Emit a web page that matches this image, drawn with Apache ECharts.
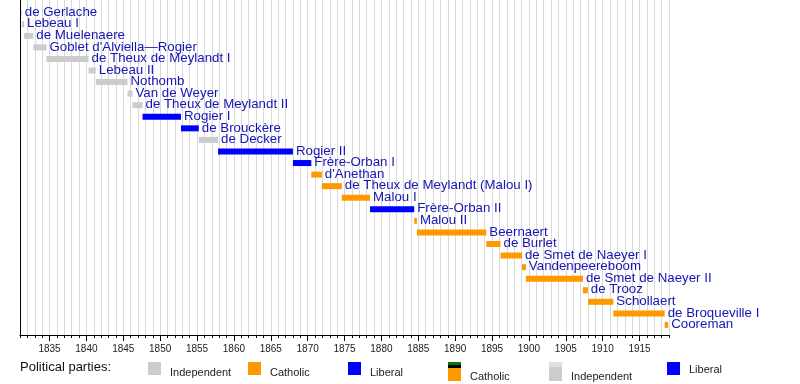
<!DOCTYPE html>
<html><head><meta charset="utf-8">
<script src="https://cdn.jsdelivr.net/npm/echarts@6/dist/echarts.min.js"></script>
<style>html,body{margin:0;padding:0;background:#fff}#c{width:800px;height:384px}</style>
</head><body><div id="c"></div>
<script>
var governments = ["de Gerlache","Lebeau I","de Muelenaere","Goblet d'Alviella\u2014Rogier","de Theux de Meylandt I","Lebeau II","Nothomb","Van de Weyer","de Theux de Meylandt II","Rogier I","de Brouckère","de Decker","Rogier II","Frère-Orban I","d'Anethan","de Theux de Meylandt (Malou I)","Malou I","Frère-Orban II","Malou II","Beernaert","de Burlet","de Smet de Naeyer I","Vandenpeereboom","de Smet de Naeyer II","de Trooz","Schollaert","de Broqueville I","Cooreman"];
var startDates = ["1831-02-27","1831-03-28","1831-07-24","1832-10-20","1834-08-04","1840-04-18","1841-04-13","1845-07-30","1846-03-31","1847-08-12","1852-10-31","1855-03-30","1857-11-09","1868-01-03","1870-07-02","1871-12-07","1874-08-21","1878-06-19","1884-06-16","1884-10-26","1894-03-26","1896-02-25","1899-01-24","1899-08-05","1907-05-02","1908-01-09","1911-06-17","1918-06-01"];
var endDates = ["1831-03-28","1831-07-21","1832-10-20","1834-08-04","1840-04-18","1841-04-13","1845-07-30","1846-03-31","1847-08-12","1852-10-31","1855-03-30","1857-11-09","1868-01-03","1870-07-02","1871-12-07","1874-08-21","1878-06-19","1884-06-16","1884-10-26","1894-03-26","1896-02-25","1899-01-24","1899-08-05","1907-05-02","1907-12-31","1911-06-17","1918-06-01","1918-11-21"];
var parties = ["Independent","Independent","Independent","Independent","Independent","Independent","Independent","Independent","Independent","Liberal","Liberal","Independent","Liberal","Liberal","Catholic","Catholic","Catholic","Liberal","Catholic","Catholic","Catholic","Catholic","Catholic","Catholic","Catholic","Catholic","Catholic","Catholic"];
var tickYears = [1835,1840,1845,1850,1855,1860,1865,1870,1875,1880,1885,1890,1895,1900,1905,1910,1915];
var partyColors = {Independent:'#cccccc', Catholic:'#ff9900', Liberal:'#0000ff'};

function toYear(s){
  var p = s.split('-').map(Number);
  var y = p[0];
  var d0 = Date.UTC(y,0,1), d1 = Date.UTC(y+1,0,1), d = Date.UTC(y,p[1]-1,p[2]);
  return y + (d - d0)/(d1 - d0);
}
var data = governments.map(function(n,i){
  return [toYear(startDates[i]), toYear(endDates[i]), i, n, parties[i]];
});

var chart = echarts.init(document.getElementById('c'), null, {renderer:'canvas'});
var FONT = '"Liberation Sans", Arial, sans-serif';
chart.setOption({
  animation:false,
  grid:{left:20, right:131, top:0, bottom:49, containLabel:false},
  xAxis:[{
    type:'value', min:1831, max:1919, interval:1, position:'bottom',
    axisLine:{show:true, onZero:false, lineStyle:{color:'#000', width:1}},
    axisTick:{show:true, length:3, lineStyle:{color:'#000'}},
    axisLabel:{show:false},
    splitLine:{show:true, lineStyle:{color:'#d9d9d9', width:1}}
  },{
    type:'value', min:1831, max:1919, interval:1, position:'bottom',
    axisLine:{show:false, onZero:false},
    axisTick:{show:true, length:6, customValues:tickYears, lineStyle:{color:'#000'}},
    axisLabel:{show:true, customValues:tickYears, margin:9, fontSize:10, color:'#222', fontFamily:FONT,
      formatter:function(v){ return String(v); }},
    splitLine:{show:false}
  }],
  yAxis:{
    type:'value', inverse:true, min:-1.098, max:27.869,
    axisLine:{show:true, onZero:false, lineStyle:{color:'#000'}},
    axisTick:{show:false}, axisLabel:{show:false}, splitLine:{show:false}
  },
  series:[{
    type:'custom',
    clip:false,
    data:data,
    encode:{x:[0,1], y:2},
    renderItem:function(params, api){
      var s = api.coord([api.value(0), api.value(2)]);
      var e = api.coord([api.value(1), api.value(2)]);
      var h = 6;
      var party = parties[params.dataIndex];
      return {
        type:'group',
        children:[{
          type:'rect',
          shape:{x:s[0], y:s[1]-h/2, width:Math.max(e[0]-s[0],0.8), height:h},
          style:{fill:partyColors[party]}
        },{
          type:'text',
          style:{x:e[0]+3, y:s[1]-0.5, text:governments[params.dataIndex], fill:'#1515b5',
            font:'13.3px ' + FONT, textVerticalAlign:'middle', textAlign:'left'}
        }]
      };
    }
  }],
  graphic:[
    {type:'text', left:20, top:361, style:{text:'Political parties:', font:'13px ' + FONT, fill:'#111'}},
    {type:'rect', shape:{x:148,y:362,width:13,height:13}, style:{fill:'#cccccc'}},
    {type:'text', left:170, top:367, style:{text:'Independent', font:'11px ' + FONT, fill:'#222'}},
    {type:'rect', shape:{x:248,y:362,width:13,height:13}, style:{fill:'#ff9900'}},
    {type:'text', left:270, top:367, style:{text:'Catholic', font:'11px ' + FONT, fill:'#222'}},
    {type:'rect', shape:{x:348,y:362,width:13,height:13}, style:{fill:'#0000ff'}},
    {type:'text', left:370, top:367, style:{text:'Liberal', font:'11px ' + FONT, fill:'#222'}},
    {type:'rect', shape:{x:448,y:362,width:13,height:3}, style:{fill:'#007a00'}},
    {type:'rect', shape:{x:448,y:365,width:13,height:3}, style:{fill:'#000'}},
    {type:'rect', shape:{x:448,y:368,width:13,height:13}, style:{fill:'#ff9900'}},
    {type:'text', left:470, top:371, style:{text:'Catholic', font:'11px ' + FONT, fill:'#222'}},
    {type:'rect', shape:{x:549,y:362,width:13,height:5}, style:{fill:'#e0e0e0'}},
    {type:'rect', shape:{x:549,y:367,width:13,height:14}, style:{fill:'#cccccc'}},
    {type:'text', left:571, top:371, style:{text:'Independent', font:'11px ' + FONT, fill:'#222'}},
    {type:'rect', shape:{x:667,y:362,width:13,height:13}, style:{fill:'#0000ff'}},
    {type:'text', left:689, top:364, style:{text:'Liberal', font:'11px ' + FONT, fill:'#222'}}
  ]
});
</script></body></html>
